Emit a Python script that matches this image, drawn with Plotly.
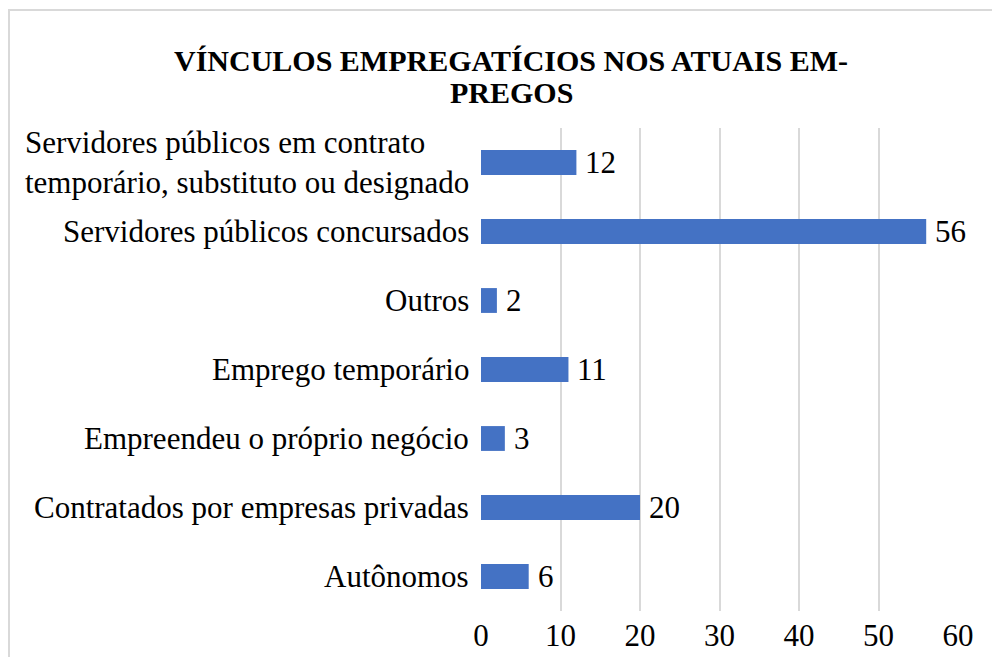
import plotly.graph_objects as go

categories = [
    "Autônomos",
    "Contratados por empresas privadas",
    "Empreendeu o próprio negócio",
    "Emprego temporário",
    "Outros",
    "Servidores públicos concursados",
    "Servidores públicos em contrato<br>temporário, substituto ou designado",
]
values = [6, 20, 3, 11, 2, 56, 12]
x_ticks = [0, 10, 20, 30, 40, 50, 60]
title_lines = ["VÍNCULOS EMPREGATÍCIOS NOS ATUAIS EM-", "PREGOS"]

FONT = "'Times New Roman', 'Liberation Serif', 'DejaVu Serif', serif"
BAR = "#4472C4"
FS = 31

# figure-pixel geometry (page is offset by the 8px body margin)
W, H = 1000, 657
L, R, T, B = 473, 50, 120, 54
pw, ph = W - L - R, H - T - B

def fx(px):
    return (px - L) / pw

def fy(py):
    return (H - B - py) / ph

fig = go.Figure()
fig.add_trace(go.Bar(
    y=categories, x=values, orientation="h",
    marker=dict(color=BAR, line=dict(width=0)),
    width=0.36,
    hoverinfo="x+y",
))

# data labels
for c, v in zip(categories, values):
    fig.add_annotation(
        xref="x", yref="y", x=v, y=c, xanchor="left", xshift=7,
        text=str(v), showarrow=False,
        font=dict(family=FONT, size=FS, color="#000000"),
    )

# category labels (multi-line ones are left-aligned inside their block)
for c in categories:
    fig.add_annotation(
        xref="paper", yref="y", x=0, y=c, xanchor="right", xshift=-11,
        text=c, showarrow=False, align="left", borderpad=0,
        font=dict(family=FONT, size=FS, color="#000000"),
    )

# title (two lines, tight spacing)
for i, t in enumerate(title_lines):
    fig.add_annotation(
        xref="paper", yref="paper", x=fx(503), y=fy(53 + i * 31),
        xanchor="center", yanchor="middle",
        text="<b>" + t + "</b>", showarrow=False, borderpad=0,
        font=dict(family=FONT, size=30, color="#000000"),
    )

# chart border
fig.add_shape(type="rect", xref="paper", yref="paper",
              x0=fx(1), x1=fx(1020),
              y0=fy(700), y1=fy(2),
              line=dict(color="#d9d9d9", width=2), fillcolor="rgba(0,0,0,0)", layer="below")

fig.update_layout(
    width=W, height=H,
    margin=dict(l=L, r=R, t=T, b=B),
    paper_bgcolor="white", plot_bgcolor="white",
    showlegend=False,
    font=dict(family=FONT),
    xaxis=dict(
        range=[0, 60], tickvals=x_ticks, ticktext=[str(t) for t in x_ticks],
        showgrid=True, gridcolor="#d9d9d9", gridwidth=2,
        zeroline=False, showline=False, ticks="", ticklabelstandoff=3,
        tickfont=dict(family=FONT, size=FS, color="#000000"),
    ),
    yaxis=dict(
        showticklabels=False, showgrid=False, zeroline=False, showline=False, ticks="",
        range=[-0.5, 6.5],
    ),
)

fig.write_html("out.html")
